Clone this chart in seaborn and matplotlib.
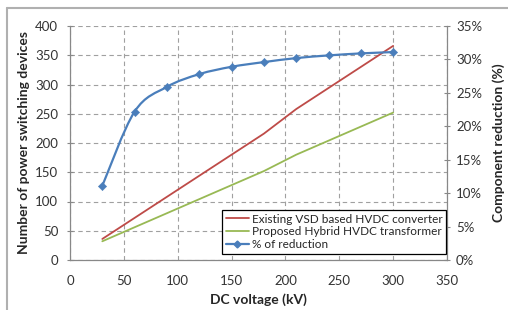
import numpy as np
import pandas as pd
import matplotlib
matplotlib.use('Agg')
import matplotlib.pyplot as plt
import seaborn as sns
from matplotlib.path import Path
from matplotlib.patches import PathPatch
from matplotlib.lines import Line2D
from matplotlib.ticker import PercentFormatter

voltage = [30, 60, 90, 120, 150, 180, 210, 240, 270, 300]
existing_vsd = [36, 72, 108, 144, 180, 216, 258, 294, 330, 366]
proposed_hybrid = [32, 56, 80, 104, 128, 152, 180, 204, 228, 252]
reduction_pct = [11.1, 22.2, 25.9, 27.8, 28.9, 29.6, 30.2, 30.6, 30.9, 31.1]

red = '#BE4B48'
green = '#98B954'
blue = '#4A7EBB'

df = pd.DataFrame({'V': voltage, 'vsd': existing_vsd, 'hyb': proposed_hybrid, 'red': reduction_pct})

sns.set_theme(style='white')
plt.rcParams['font.family'] = ['Lato', 'DejaVu Sans']

fig = plt.figure(figsize=(5.08, 3.10), dpi=100)
ax = fig.add_axes([70/508, 1-260/310, 377/508, 234/310])
ax2 = ax.twinx()

sns.lineplot(data=df, x='V', y='vsd', ax=ax, color=red, lw=1.3)
sns.lineplot(data=df, x='V', y='hyb', ax=ax, color=green, lw=1.3)

# smooth curve like Excel (Catmull-Rom as Bezier)
xs, ys = np.array(voltage, float), np.array(reduction_pct, float)
verts = [(xs[0], ys[0])]
codes = [Path.MOVETO]
n = len(xs)
for i in range(n - 1):
    p0 = (xs[max(i-1, 0)], ys[max(i-1, 0)])
    p1 = (xs[i], ys[i])
    p2 = (xs[i+1], ys[i+1])
    p3 = (xs[min(i+2, n-1)], ys[min(i+2, n-1)])
    c1 = (p1[0] + (p2[0]-p0[0])/6, p1[1] + (p2[1]-p0[1])/6)
    c2 = (p2[0] - (p3[0]-p1[0])/6, p2[1] - (p3[1]-p1[1])/6)
    verts += [c1, c2, p2]
    codes += [Path.CURVE4]*3
ax2.add_patch(PathPatch(Path(verts, codes), fill=False, edgecolor=blue, lw=1.6))
sns.scatterplot(data=df, x='V', y='red', ax=ax2, color=blue, marker='D', s=18, edgecolor=blue, zorder=5)

ax.set_xlim(0, 350)
ax.set_ylim(0, 400)
ax2.set_ylim(0, 35)
ax.set_xticks(range(0, 351, 50))
ax.set_yticks(range(0, 401, 50))
ax2.set_yticks(range(0, 36, 5))
ax2.yaxis.set_major_formatter(PercentFormatter(decimals=0))

ax.grid(True, ls=(0, (4, 3)), color='#A0A0A0', lw=0.8)
ax.set_axisbelow(True)
for a in (ax, ax2):
    a.spines['top'].set_visible(False)
    for s in ('left', 'right', 'bottom'):
        a.spines[s].set_color('#888888')
        a.spines[s].set_linewidth(0.9)
ax2.spines['left'].set_visible(False)
ax2.spines['bottom'].set_visible(False)
ax.spines['right'].set_visible(False)

ax.tick_params(axis='both', direction='inout', length=5, width=0.8, color='#888888',
               labelsize=9.5, labelcolor='#333333', pad=6)
ax.tick_params(axis='x', pad=8)
ax2.tick_params(axis='y', direction='inout', length=5, width=0.8, color='#888888',
                labelsize=9.5, labelcolor='#333333', pad=4)

ax.set_xlabel('DC voltage (kV)', fontsize=10, fontweight='bold', labelpad=5)
ax.set_ylabel('Number of power switching devices', fontsize=10, fontweight='bold', labelpad=4)
ax2.set_ylabel('Component reduction (%)', fontsize=10, fontweight='bold', labelpad=7)

handles = [Line2D([], [], color=red, lw=1.3),
           Line2D([], [], color=green, lw=1.3),
           Line2D([], [], color=blue, lw=1.6, marker='D', ms=3.5)]
labels = ['Existing VSD based HVDC converter', 'Proposed Hybrid HVDC transformer', '% of reduction']
leg = ax2.legend(handles, labels, loc='upper left', bbox_to_anchor=(222/508, 1-210/310),
                 bbox_transform=fig.transFigure, fancybox=False, framealpha=1, edgecolor='black',
                 fontsize=8.5, borderpad=0.3, labelspacing=0.15, handlelength=2.0,
                 handletextpad=0.2, borderaxespad=0)
leg.get_frame().set_linewidth(0.9)

# outer chart frame
fig.add_artist(Line2D([7/508, 7/508], [0, 1-8/310], transform=fig.transFigure, color='#B0B0B0', lw=1.5))
fig.add_artist(Line2D([7/508, 1], [1-8/310, 1-8/310], transform=fig.transFigure, color='#B0B0B0', lw=1.5))

fig.savefig('out.png', dpi=100)
